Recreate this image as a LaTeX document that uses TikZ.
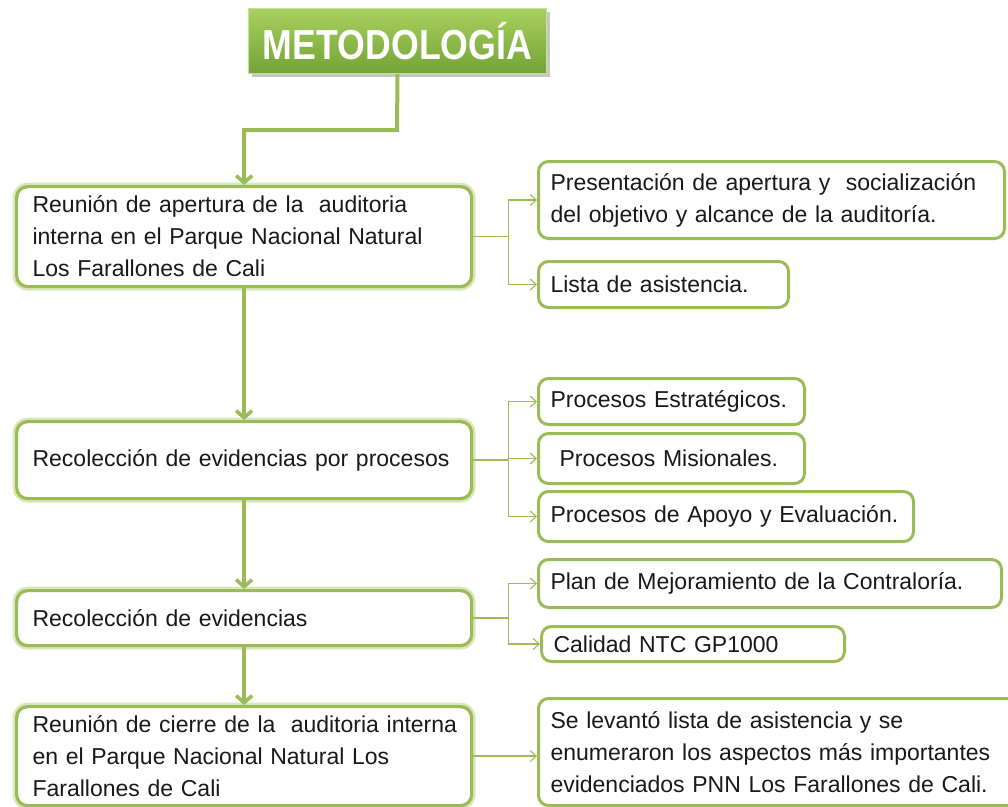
\documentclass[tikz,border=0pt]{standalone}
\usepackage{fontspec}
\setmainfont{Liberation Sans}
\usetikzlibrary{arrows.meta,shadows}
\definecolor{ogreen}{HTML}{9BBB59}
\definecolor{glow}{HTML}{D8E8B8}
\definecolor{ttop}{HTML}{A8D160}
\definecolor{tbot}{HTML}{73A236}
\definecolor{tborder}{HTML}{C6E294}
\begin{document}
\begin{tikzpicture}[x=1pt,y=-1pt,
  txt/.style={font=\fontsize{23}{32}\selectfont, text=black!90, align=left},
  lbox/.style={txt, draw=ogreen, line width=3.2pt, rounded corners=11pt, fill=white,
    preaction={draw=glow, line width=8pt, rounded corners=11pt},
    anchor=north west, inner xsep=16pt, inner ysep=0pt},
  rbox/.style={txt, draw=ogreen, line width=3pt, rounded corners=10pt, fill=white,
    anchor=north west, inner xsep=12pt, inner ysep=0pt},
  trunk/.style={draw=ogreen, line width=4pt},
  trunkarrow/.style={trunk, -{Straight Barb[length=7pt,width=16pt,line width=3.5pt]}},
  branch/.style={draw=ogreen, line width=1.3pt},
  brancharrow/.style={branch, -{Straight Barb[length=6pt,width=11pt,line width=1.1pt]}}
]
\useasboundingbox (0,0) rectangle (1008,806);

% title
\node[draw=tborder, line width=1pt, top color=ttop, bottom color=tbot,
      drop shadow={shadow xshift=3pt, shadow yshift=-3pt, opacity=0.45},
      minimum width=298pt, minimum height=65pt, anchor=north west, inner sep=0pt,
      text=white, font=\bfseries\fontsize{42}{42}\selectfont] (title) at (248,8)
      {\scalebox{0.85}[1]{METODOLOGÍA}};

% left column
\node[lbox, text width=423pt, minimum height=100pt] (b1) at (15,185)
  {Reunión de apertura de la\ \ auditoria\\interna en el Parque Nacional Natural\\Los Farallones de Cali};
\node[lbox, text width=423pt, minimum height=77pt] (b2) at (15,420)
  {Recolección de evidencias por procesos};
\node[lbox, text width=423pt, minimum height=55pt] (b3) at (15,589)
  {Recolección de evidencias};
\node[lbox, text width=423pt, minimum height=99pt] (b4) at (15,705)
  {\mbox{Reunión de cierre de la\ \ auditoria interna}\\\mbox{en el Parque Nacional Natural Los}\\Farallones de Cali};

% right column
\node[rbox, text width=442pt, minimum height=77pt] (r1) at (537,160)
  {Presentación de apertura y\ \ socialización\\del objetivo y alcance de la auditoría.};
\node[rbox, text width=226pt, minimum height=46pt] (r2) at (537,260)
  {Lista de asistencia.};
\node[rbox, text width=242pt, minimum height=46pt] (r3) at (537,377)
  {Procesos Estratégicos.};
\node[rbox, text width=242pt, minimum height=50pt] (r4) at (537,432)
  {\hspace{9pt}Procesos Misionales.};
\node[rbox, text width=351pt, minimum height=50pt] (r5) at (537,490)
  {Procesos de Apoyo y Evaluación.};
\node[rbox, text width=439pt, minimum height=48pt] (r6) at (537,558)
  {Plan de Mejoramiento de la Contraloría.};
\node[rbox, text width=279pt, minimum height=35pt] (r7) at (540,625)
  {Calidad NTC GP1000};
\node[rbox, text width=462pt, minimum height=107pt] (r8) at (537,697)
  {Se levantó lista de asistencia y se\\enumeraron los aspectos más importantes\\evidenciados PNN Los Farallones de Cali.};

% trunk
\coordinate (j0) at (397,130);
\draw[trunkarrow] (title.south) -- (j0) -| (b1.north);
\draw[trunkarrow] (b1.south) -- (b2.north);
\draw[trunkarrow] (b2.south) -- (b3.north);
\draw[trunkarrow] (b3.south) -- (b4.north);

% branches
\coordinate (c1) at ([xshift=35pt]b1.east);
\draw[branch] (b1.east) -- (c1);
\draw[brancharrow] (c1) |- (r1.west);
\draw[brancharrow] (c1) |- (r2.west);

\coordinate (c2) at ([xshift=35pt]b2.east);
\draw[branch] (b2.east) -- (c2);
\draw[brancharrow] (c2) |- (r3.west);
\draw[brancharrow] (c2) |- (r4.west);
\draw[brancharrow] (c2) |- (r5.west);

\coordinate (c3) at ([xshift=35pt]b3.east);
\draw[branch] (b3.east) -- (c3);
\draw[brancharrow] (c3) |- (r6.west);
\draw[brancharrow] (c3) |- (r7.west);

\draw[brancharrow] (b4.east) -- (b4.east -| r8.west);
\end{tikzpicture}
\end{document}
